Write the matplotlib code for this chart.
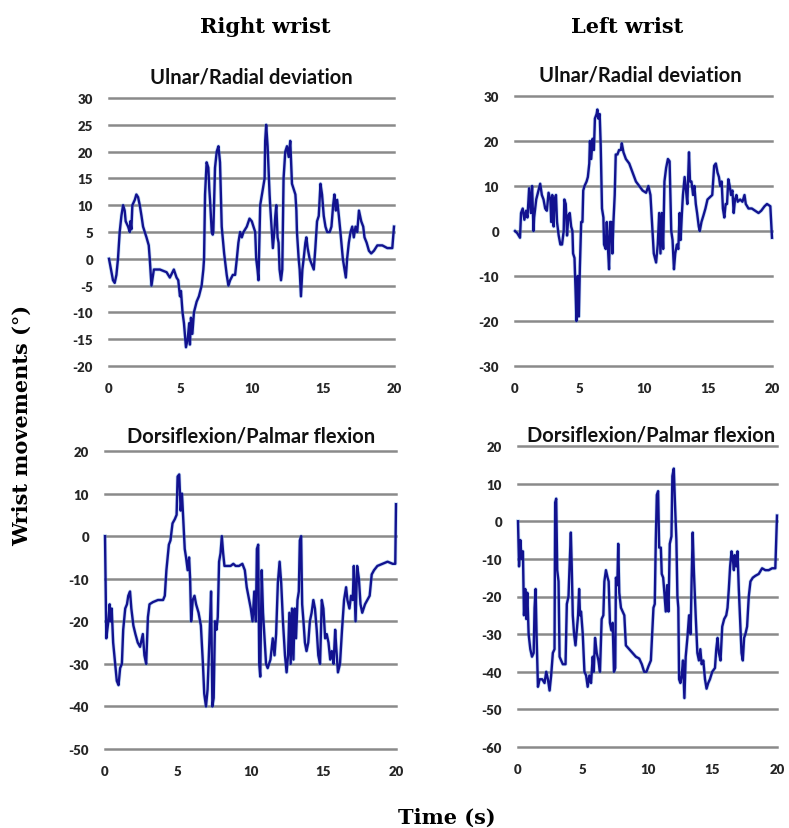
import matplotlib
matplotlib.use("Agg")
import matplotlib.pyplot as plt
from matplotlib.ticker import FixedLocator, FixedFormatter

# ---------------- data: wrist angles (degrees) over time (s) ----------------
right_ur_t = [0, 0.28, 0.40, 0.52, 0.63, 0.75, 0.87, 0.99, 1.10, 1.17, 1.34, 1.46, 1.50, 1.57,
              1.64, 1.81, 1.92, 2.04, 2.16, 2.28, 2.39, 2.63, 2.79, 2.86, 2.98, 3.15, 3.57, 4.04,
              4.27, 4.55, 4.74, 4.86, 4.98, 5.05, 5.16, 5.26, 5.40, 5.52, 5.63, 5.68, 5.75, 5.85,
              5.96, 6.15, 6.31, 6.50, 6.62, 6.67, 6.74, 6.85, 6.97, 7.04, 7.09, 7.21, 7.28, 7.32,
              7.44, 7.56, 7.68, 7.79, 7.91, 8.08, 8.26, 8.38, 8.50, 8.69, 8.85, 8.97, 9.08, 9.20,
              9.32, 9.44, 9.67, 9.86, 10.02, 10.26, 10.33, 10.42, 10.49, 10.61, 10.80, 10.92, 10.96,
              11.03, 11.13, 11.27, 11.31, 11.43, 11.50, 11.60, 11.67, 11.74, 11.83, 11.90, 11.97,
              12.07, 12.16, 12.21, 12.25, 12.37, 12.49, 12.61, 12.72, 12.84, 12.96, 13.08, 13.15,
              13.19, 13.31, 13.38, 13.47, 13.57, 13.66, 13.78, 13.85, 13.94, 14.08, 14.37, 14.48,
              14.60, 14.72, 14.84, 14.95, 15.07, 15.19, 15.31, 15.49, 15.61, 15.73, 15.82, 15.92,
              16.01, 16.13, 16.24, 16.41, 16.53, 16.62, 16.71, 16.83, 16.95, 17.07, 17.18, 17.30,
              17.42, 17.54, 17.70, 17.84, 17.93, 18.08, 18.24, 18.40, 18.59, 18.83, 19.18, 19.53,
              19.88, 20.0]
right_ur_v = [0, -4, -4.5, -3, 0, 5, 8, 10, 9, 7, 6, 5, 7, 5.5,
              10, 11, 12, 11.5, 10, 8, 6, 4, 2.5, 0, -5, -2, -2, -2.5,
              -3.5, -2, -3.5, -4, -7, -6, -10, -12, -16.5, -15, -12, -16, -11, -14,
              -10, -8, -7, -5, -2, 0, 12, 18, 17, 13, 11, 5, 4.5, 5,
              17, 20, 21, 18, 6, 1, -3, -5, -4, -3, -3, 0, 3, 5,
              4, 5, 6, 7.5, 7, 5, 0, -2, -4, 10, 13, 15, 22,
              25, 21, 12, 10, 5, 2, 5, 8, 10, 4, 3, -2,
              -4, -2, 8, 15, 20, 21, 19, 22, 14, 13, 12, 9,
              5, 0, -2, -7, -2, 0, 3, 4, 2, 0, -2, 2,
              7, 8, 14, 12, 8, 6, 5, 5, 6, 10, 12, 9,
              11, 8, 5, 0, -2, -3.5, 0, 3, 5, 6, 4, 6,
              5, 9, 7, 6, 4, 3, 1.5, 1, 1.5, 2.5, 2.5, 2,
              2, 6]

left_ur_t = [0, 0.18, 0.39, 0.47, 0.60, 0.73, 0.86, 0.97, 1.10, 1.23, 1.33, 1.44, 1.49, 1.65,
             1.83, 1.96, 2.09, 2.22, 2.35, 2.48, 2.61, 2.75, 2.82, 2.90, 3.01, 3.08, 3.19, 3.27,
             3.40, 3.53, 3.66, 3.79, 3.84, 3.95, 4.05, 4.16, 4.26, 4.37, 4.47, 4.52, 4.63, 4.71,
             4.78, 4.89, 4.97, 5.05, 5.15, 5.25, 5.31, 5.41, 5.57, 5.67, 5.78, 5.83, 5.93, 6.04,
             6.14, 6.22, 6.35, 6.41, 6.48, 6.59, 6.67, 6.77, 6.88, 6.93, 7.06, 7.14, 7.22, 7.32,
             7.40, 7.50, 7.58, 7.66, 7.76, 7.84, 7.97, 8.10, 8.24, 8.31, 8.44, 8.63, 8.89, 9.15,
             9.41, 9.67, 9.93, 10.20, 10.38, 10.54, 10.64, 10.80, 10.98, 11.11, 11.22, 11.32,
             11.42, 11.53, 11.63, 11.76, 11.90, 12.03, 12.16, 12.26, 12.37, 12.47, 12.60, 12.71,
             12.81, 12.89, 12.99, 13.07, 13.20, 13.31, 13.41, 13.54, 13.62, 13.73, 13.86, 13.96,
             14.07, 14.17, 14.30, 14.38, 14.51, 14.67, 14.82, 14.98, 15.16, 15.35, 15.50, 15.63,
             15.76, 15.87, 15.97, 16.08, 16.18, 16.29, 16.39, 16.50, 16.60, 16.71, 16.81, 16.92,
             17.02, 17.12, 17.23, 17.33, 17.52, 17.70, 17.86, 17.96, 18.17, 18.43, 18.69, 18.95,
             19.16, 19.42, 19.61, 19.87, 20.0]
left_ur_v = [0, -0.5, -1.5, 4, 5, 2.5, 4.5, 3, 9.5, 4, 10, 0, 3, 7,
             9, 10.5, 8, 7, 5, 4.5, 8.5, 7, 2, 8, 1, 7, 8, 2,
             -1, -3, -3, 0, 7, 6, -1, 3.5, 4, 1, 0, -5, -6, -13,
             -20, -10, -19, -8, 2, 2, 9, 10, 11, 12, 15, 20, 16, 20.5,
             18, 25, 26, 27, 25, 26, 19, 5, 3, -3, -4, 2, -3, -8.5,
             2, 2, -5, 2, 8, 17, 17, 18, 18, 19.5, 17.5, 16, 15, 13,
             11, 10, 9, 8.5, 10, 8, 3, -5, -7, -3, 4, -5,
             4, -4, 11, 14, 16, 15.5, 0, -2, -8.5, -5, -3, -4,
             4, -2, 4, 8, 12, 9, 6, 17.5, 11, 11, 8, 10,
             6, 4, 1, 0, 2, 3.5, 5, 7, 7.5, 8, 14.5, 15,
             13, 12, 10, 11, 5, 3, 6, 6, 11.5, 10, 8, 9,
             4, 7, 8, 6.5, 7, 6.5, 8, 6, 5, 5, 4.5, 4,
             4.5, 5.5, 6, 5.5, -1.5]

right_df_t = [0, 0.09, 0.23, 0.32, 0.39, 0.46, 0.56, 0.70, 0.81, 0.93, 1.04, 1.16, 1.25, 1.39,
              1.51, 1.60, 1.72, 1.81, 1.95, 2.09, 2.25, 2.41, 2.60, 2.71, 2.83, 2.95, 3.06, 3.29,
              3.64, 3.99, 4.11, 4.22, 4.39, 4.50, 4.64, 4.80, 4.92, 4.99, 5.10, 5.20, 5.29, 5.38,
              5.48, 5.57, 5.68, 5.78, 5.85, 5.92, 6.03, 6.15, 6.26, 6.43, 6.59, 6.73, 6.82, 6.94,
              7.05, 7.17, 7.29, 7.38, 7.47, 7.56, 7.66, 7.75, 7.84, 7.94, 8.03, 8.12, 8.21, 8.40,
              8.63, 8.82, 8.98, 9.21, 9.44, 9.61, 9.74, 9.91, 10.02, 10.14, 10.26, 10.37, 10.44,
              10.53, 10.60, 10.67, 10.77, 10.86, 10.95, 11.07, 11.18, 11.37, 11.53, 11.65, 11.76,
              11.88, 12.00, 12.11, 12.23, 12.37, 12.48, 12.58, 12.67, 12.76, 12.85, 12.95, 13.04,
              13.13, 13.23, 13.32, 13.39, 13.48, 13.55, 13.64, 13.74, 13.85, 13.97, 14.08, 14.20,
              14.32, 14.43, 14.55, 14.66, 14.78, 14.90, 15.01, 15.13, 15.24, 15.36, 15.48, 15.59,
              15.71, 15.82, 15.89, 16.01, 16.15, 16.29, 16.43, 16.57, 16.66, 16.80, 16.91, 17.03,
              17.10, 17.22, 17.33, 17.45, 17.56, 17.68, 17.87, 18.03, 18.19, 18.33, 18.49, 18.72,
              19.07, 19.42, 19.77, 19.95, 20.0]
right_df_v = [0, -24, -20, -16, -20, -17, -25, -30, -34, -35, -31, -30, -22, -17,
              -16, -14, -13, -17, -21, -23, -25, -26, -23, -28, -30, -19, -16, -15.5,
              -15, -15, -14, -8, -2, -1, 3, 4, 5, 14, 14.5, 6, 10, 4,
              -3, -5, -8, -5, -10, -20, -15, -14, -16, -18, -21, -30, -37, -40,
              -36, -25, -13, -40, -38, -20, -22, -19, -6, -4, 0, -4, -7, -7,
              -7, -6.5, -7, -7, -6.5, -8, -12, -15, -17, -20, -13, -20, -3,
              -2, -30, -33, -8, -18, -23, -30, -31, -29, -24, -28, -23,
              -11, -6, -11, -20, -28, -32, -28, -18, -30, -17, -29, -17,
              -24, -15, -13, -1, 0, -16, -20, -25, -27, -25, -20, -18,
              -15, -17, -22, -28, -30, -15, -17, -24, -23, -25, -29, -27,
              -30, -22, -26, -32, -30, -22, -15, -12, -15, -17, -14, -15,
              -7, -20, -7, -10, -16, -18, -16, -15, -14, -9, -8, -7,
              -6.5, -6, -6.5, -6.5, 7.5]

left_df_t = [0, 0.08, 0.18, 0.28, 0.38, 0.46, 0.56, 0.64, 0.72, 0.82, 0.95, 1.08, 1.21, 1.28,
             1.36, 1.44, 1.54, 1.67, 1.87, 2.05, 2.18, 2.31, 2.44, 2.56, 2.69, 2.82, 2.87, 2.95,
             3.03, 3.13, 3.21, 3.33, 3.46, 3.67, 3.77, 3.90, 3.97, 4.08, 4.15, 4.23, 4.33, 4.44,
             4.54, 4.64, 4.72, 4.79, 4.87, 5.00, 5.13, 5.26, 5.38, 5.51, 5.64, 5.77, 5.85, 5.95,
             6.08, 6.21, 6.33, 6.46, 6.59, 6.67, 6.79, 6.92, 7.00, 7.10, 7.21, 7.31, 7.41, 7.51,
             7.56, 7.67, 7.74, 7.82, 7.95, 8.08, 8.21, 8.33, 8.59, 8.85, 9.10, 9.36, 9.56, 9.74,
             9.92, 10.08, 10.26, 10.33, 10.46, 10.56, 10.64, 10.72, 10.82, 10.90, 11.03, 11.10,
             11.21, 11.28, 11.41, 11.51, 11.62, 11.72, 11.85, 11.92, 12.03, 12.13, 12.23, 12.31,
             12.38, 12.44, 12.54, 12.64, 12.74, 12.85, 12.95, 13.08, 13.21, 13.33, 13.41, 13.49,
             13.59, 13.72, 13.85, 13.97, 14.08, 14.18, 14.31, 14.44, 14.56, 14.69, 14.82, 15.00,
             15.21, 15.31, 15.41, 15.51, 15.64, 15.77, 15.92, 16.08, 16.18, 16.28, 16.38, 16.49,
             16.59, 16.67, 16.74, 16.85, 16.95, 17.05, 17.15, 17.26, 17.36, 17.46, 17.56, 17.69,
             17.82, 17.95, 18.13, 18.33, 18.59, 18.85, 19.10, 19.36, 19.62, 19.87, 20.0]
left_df_v = [0, -12, -5, -10, -8, -25, -18, -26, -19, -30, -34, -36, -35, -23,
             -18, -31, -44, -42, -42, -43, -40, -42, -45, -41, -35, -34, 5, 6,
             -13, -16, -36, -37, -38, -38, -22, -20, -13, -3, -12, -25, -30, -33,
             -29, -25, -18, -25, -24, -30, -40, -41, -44, -41, -43, -36, -40, -31,
             -35, -37, -40, -26, -25, -16, -13, -15, -16, -27, -29, -27, -40, -39,
             -15, -17, -6, -19, -23, -24, -25, -33, -34, -35, -36, -36.5, -38, -40,
             -40, -38.5, -37, -32, -23, -22, -5, 7, 8, -7, -7, -14,
             -15, -18, -24, -17, -24, -6, -4, 12, 14, 4, -5, -20,
             -23, -42, -43, -41, -37, -47, -36, -31, -25, -30, -15, -3,
             -14, -25, -35, -37, -34, -38, -37, -42, -44.5, -43, -42, -40,
             -39, -34, -31, -35, -37, -28, -26, -25, -23, -18, -12, -8,
             -10, -13, -9, -12, -8, -18, -26, -35, -37, -31, -30, -28,
             -20, -16, -15, -14.5, -14, -12.5, -13, -13, -12.5, -12.5, 1.5]

x_ticks = [0, 5, 10, 15, 20]
x_tick_labels = ["0", "5", "10", "15", "20"]
ur_right_ticks = [30, 25, 20, 15, 10, 5, 0, -5, -10, -15, -20]
ur_left_ticks = [30, 20, 10, 0, -10, -20, -30]
df_right_ticks = [20, 10, 0, -10, -20, -30, -40, -50]
df_left_ticks = [20, 10, 0, -10, -20, -30, -40, -50, -60]

column_titles = ["Right wrist", "Left wrist"]
ur_title = "Ulnar/Radial deviation"
df_title = "Dorsiflexion/Palmar flexion"
y_label = "Wrist movements (°)"
x_label = "Time (s)"

# ---------------- figure ----------------
W, H = 789, 829
fig = plt.figure(figsize=(W / 100, H / 100), dpi=100)
fig.patch.set_facecolor("white")

LINE = "#12128f"
GRID = "#8a8a8a"
TICK = "#262626"
TICK_FONT = dict(family="Lato", weight="heavy", size=9.5)
HEAD_FONT = dict(family="DejaVu Serif", weight="bold", size=15)
SUB_FONT = dict(family="Lato", weight="bold", size=14.5)


def axes_px(x0, x1, ytop, ybot):
    """Axes rectangle given in pixel coordinates (top-left origin)."""
    return [x0 / W, 1 - ybot / H, (x1 - x0) / W, (ybot - ytop) / H]


def panel(rect, t, v, yticks):
    ax = fig.add_axes(rect)
    ax.set_xlim(0, 20)
    ax.set_ylim(min(yticks), max(yticks))
    for s in ax.spines.values():
        s.set_visible(False)
    for yv in yticks:
        ax.axhline(yv, color=GRID, lw=1.8, zorder=1, clip_on=False)
    ax.plot(t, v, color="#5f9fe0", lw=2.8, alpha=0.35, zorder=2, clip_on=False)
    ax.plot(t, v, color=LINE, lw=1.7, zorder=3, clip_on=False)
    ax.xaxis.set_major_locator(FixedLocator(x_ticks))
    ax.xaxis.set_major_formatter(FixedFormatter(x_tick_labels))
    ax.yaxis.set_major_locator(FixedLocator(yticks))
    ax.yaxis.set_major_formatter(FixedFormatter([str(y) for y in yticks]))
    ax.tick_params(axis="both", length=0, colors=TICK)
    ax.tick_params(axis="y", pad=11.5)
    ax.tick_params(axis="x", pad=11.5)
    for lab in ax.get_xticklabels() + ax.get_yticklabels():
        lab.set_fontfamily(TICK_FONT["family"])
        lab.set_fontweight(TICK_FONT["weight"])
        lab.set_fontsize(TICK_FONT["size"])
    ax.set_facecolor("none")
    return ax


panel(axes_px(109, 394, 99, 367), right_ur_t, right_ur_v, ur_right_ticks)
panel(axes_px(515, 772, 97, 367), left_ur_t, left_ur_v, ur_left_ticks)
panel(axes_px(105, 396, 452, 750), right_df_t, right_df_v, df_right_ticks)
panel(axes_px(518, 777, 447, 748), left_df_t, left_df_v, df_left_ticks)


def ftext(x, y, s, **kw):
    fig.text(x / W, 1 - y / H, s, **kw)


# column headings
ftext(265, 33, column_titles[0], ha="center", va="baseline", **HEAD_FONT)
ftext(627, 33, column_titles[1], ha="center", va="baseline", **HEAD_FONT)

# panel titles
ftext(251, 83, ur_title, ha="center", va="baseline", color="#111111", **SUB_FONT)
ftext(640, 82, ur_title, ha="center", va="baseline", color="#111111", **SUB_FONT)
ftext(251, 443, df_title, ha="center", va="baseline", color="#111111", **SUB_FONT)
ftext(651, 442, df_title, ha="center", va="baseline", color="#111111", **SUB_FONT)

# shared axis labels
ftext(22, 425, y_label, ha="center", va="center", rotation=90, **HEAD_FONT)
ftext(447, 824, x_label, ha="center", va="baseline", **HEAD_FONT)

fig.savefig("out.png", dpi=100, facecolor="white")
